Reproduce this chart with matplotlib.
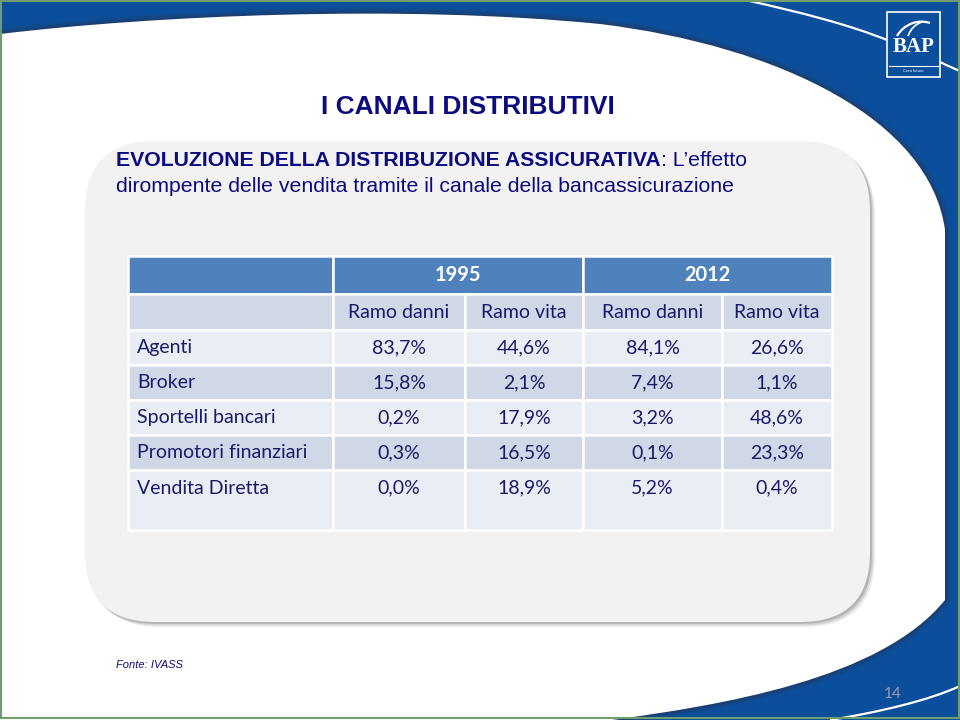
import matplotlib
matplotlib.use("Agg")
import matplotlib.pyplot as plt
from matplotlib.patches import Rectangle, FancyBboxPatch, PathPatch
from matplotlib.path import Path

# ---------------- data ----------------
title = "I CANALI DISTRIBUTIVI"
subtitle_bold = "EVOLUZIONE DELLA DISTRIBUZIONE ASSICURATIVA"
subtitle_rest = ": L\u2019effetto"
subtitle_line2 = "dirompente delle vendita tramite il canale della bancassicurazione"
years = ["1995", "2012"]
branches = ["Ramo danni", "Ramo vita", "Ramo danni", "Ramo vita"]
channels = ["Agenti", "Broker", "Sportelli bancari", "Promotori finanziari", "Vendita Diretta"]
danni_1995 = [83.7, 15.8, 0.2, 0.3, 0.0]
vita_1995 = [44.6, 2.1, 17.9, 16.5, 18.9]
danni_2012 = [84.1, 7.4, 3.2, 0.1, 5.2]
vita_2012 = [26.6, 1.1, 48.6, 23.3, 0.4]
source = "Fonte: IVASS"
page = "14"

# ---------------- style ----------------
BLUE = "#0B4F9C"
NAVY = "#0C0C80"
TXT = "#1A1A6A"
HDR = "#4F81BD"
DARK_ROW = "#D0D8E8"
LIGHT_ROW = "#E9EDF4"
SANS = ["Liberation Sans", "DejaVu Sans"]
TBL = ["Lato", "DejaVu Sans"]
TBL_SIZE = 14

fig = plt.figure(figsize=(9.6, 7.2), dpi=100)
ax = fig.add_axes([0, 0, 1, 1])
ax.set_xlim(0, 960)
ax.set_ylim(720, 0)
ax.axis("off")

# blue background with white slide area
ax.add_patch(Rectangle((0, 0), 960, 720, facecolor=BLUE, edgecolor="none", zorder=0))
verts = [(0, 34), (150, 16), (400, 4), (600, 24),
         (780, 46), (930, 120), (945, 230),
         (945, 600),
         (880, 680), (720, 705), (612, 720),
         (0, 720), (0, 34)]
codes = [Path.MOVETO, Path.CURVE4, Path.CURVE4, Path.CURVE4,
         Path.CURVE4, Path.CURVE4, Path.CURVE4,
         Path.LINETO,
         Path.CURVE4, Path.CURVE4, Path.CURVE4,
         Path.LINETO, Path.CLOSEPOLY]
wpath = Path(verts, codes)
for lw, a in [(9, 0.10), (6, 0.15), (3, 0.25)]:
    ax.add_patch(PathPatch(wpath, facecolor="none", edgecolor="#303040", lw=lw, alpha=a, zorder=1))
ax.add_patch(PathPatch(wpath, facecolor="white", edgecolor="none", zorder=2))

# white swoosh lines in the blue areas
l1 = Path([(745, 0), (800, 12), (850, 25), (887, 40)],
          [Path.MOVETO, Path.CURVE4, Path.CURVE4, Path.CURVE4])
ax.add_patch(PathPatch(l1, facecolor="none", edgecolor="white", lw=1.6, zorder=3))
l2 = Path([(940, 62), (948, 66), (955, 69), (960, 71)],
          [Path.MOVETO, Path.CURVE4, Path.CURVE4, Path.CURVE4])
ax.add_patch(PathPatch(l2, facecolor="none", edgecolor="white", lw=1.6, zorder=3))
l3 = Path([(830, 720), (880, 712), (930, 700), (960, 686)],
          [Path.MOVETO, Path.CURVE4, Path.CURVE4, Path.CURVE4])
ax.add_patch(PathPatch(l3, facecolor="none", edgecolor="white", lw=1.6, zorder=3))

# logo
ax.add_patch(Rectangle((887, 12), 53, 65, facecolor=BLUE, edgecolor="white", lw=1.2, zorder=4))
ax.plot([889, 938], [66, 66], color="white", lw=0.8, zorder=5)
ax.text(913.5, 47, "BAP", color="white", fontsize=15, fontweight="bold",
        family=["Liberation Serif", "DejaVu Serif"], ha="center", va="center", zorder=5)
arc = Path([(897, 36), (904, 24), (918, 19), (930, 23)],
           [Path.MOVETO, Path.CURVE4, Path.CURVE4, Path.CURVE4])
ax.add_patch(PathPatch(arc, facecolor="none", edgecolor="white", lw=1.6, zorder=5))
arc2 = Path([(908, 36), (911, 28), (916, 24), (922, 22)],
            [Path.MOVETO, Path.CURVE4, Path.CURVE4, Path.CURVE4])
ax.add_patch(PathPatch(arc2, facecolor="none", edgecolor="white", lw=1.2, zorder=5))
ax.text(913.5, 71.5, "Crea futuro", color="white", fontsize=3, family=SANS,
        ha="center", va="center", zorder=5)

# outer frame
ax.add_patch(Rectangle((1, 1), 958, 717, facecolor="none", edgecolor="#6E9E6E", lw=1.5, zorder=6))

# rounded panel with shadow
for off, a in [(5, 0.12), (3.5, 0.2), (2, 0.3)]:
    ax.add_patch(FancyBboxPatch((85 + off, 141 + off), 785, 481,
                                boxstyle="round,pad=0,rounding_size=70",
                                facecolor="#707070", edgecolor="none", alpha=a, zorder=7))
ax.add_patch(FancyBboxPatch((85, 141), 785, 481, boxstyle="round,pad=0,rounding_size=70",
                            facecolor="#F2F2F2", edgecolor="none", zorder=8))

# titles
ax.text(468, 106.5, title, color=NAVY, fontsize=19, fontweight="bold", family=SANS,
        ha="center", va="center", zorder=10)
t1 = ax.text(116, 166, subtitle_bold, color=NAVY, fontsize=15.3, fontweight="bold",
             family=SANS, ha="left", va="baseline", zorder=10)
ax.annotate(subtitle_rest, xy=(1, 0), xycoords=t1, color=NAVY, fontsize=15.3,
            family=SANS, ha="left", va="bottom", zorder=10)
ax.text(116, 192, subtitle_line2, color=NAVY, fontsize=15.3, family=SANS,
        ha="left", va="baseline", zorder=10)

# table
col_edges = [128, 333, 465, 583, 722, 832]
row_edges = [256, 294, 330, 365, 400, 435, 470, 530]
row_colors = [HDR, DARK_ROW, LIGHT_ROW, DARK_ROW, LIGHT_ROW, DARK_ROW, LIGHT_ROW]


def cell(x0, x1, y0, y1, color):
    ax.add_patch(Rectangle((x0, y0), x1 - x0, y1 - y0, facecolor=color,
                           edgecolor="white", lw=1.8, zorder=11))


# header row: blank + merged year cells
cell(col_edges[0], col_edges[1], row_edges[0], row_edges[1], HDR)
for i, yr in enumerate(years):
    xa, xb = col_edges[1 + 2 * i], col_edges[3 + 2 * i]
    cell(xa, xb, row_edges[0], row_edges[1], HDR)
    ax.text((xa + xb) / 2, (row_edges[0] + row_edges[1]) / 2, yr, color="white",
            fontsize=TBL_SIZE + 0.4, fontweight="bold", family=TBL, ha="center",
            va="center", zorder=12)

# sub-header row
cell(col_edges[0], col_edges[1], row_edges[1], row_edges[2], DARK_ROW)
for j, br in enumerate(branches):
    xa, xb = col_edges[1 + j], col_edges[2 + j]
    cell(xa, xb, row_edges[1], row_edges[2], DARK_ROW)
    ax.text((xa + xb) / 2, (row_edges[1] + row_edges[2]) / 2, br, color=TXT,
            fontsize=TBL_SIZE, family=TBL, ha="center", va="center", zorder=12)

# data rows
columns = [danni_1995, vita_1995, danni_2012, vita_2012]
for r, ch in enumerate(channels):
    y0, y1 = row_edges[2 + r], row_edges[3 + r]
    color = row_colors[2 + r]
    yc = (y0 + y1) / 2 if r < len(channels) - 1 else y0 + 18
    cell(col_edges[0], col_edges[1], y0, y1, color)
    ax.text(col_edges[0] + 9, yc, ch, color=TXT, fontsize=TBL_SIZE, family=TBL,
            ha="left", va="center", zorder=12)
    for j, vals in enumerate(columns):
        xa, xb = col_edges[1 + j], col_edges[2 + j]
        cell(xa, xb, y0, y1, color)
        label = f"{vals[r]:.1f}%".replace(".", ",")
        ax.text((xa + xb) / 2, yc, label, color=TXT, fontsize=TBL_SIZE, family=TBL,
                ha="center", va="center", zorder=12)

# footnote and page number
ax.text(116, 665, source, color=NAVY, fontsize=8, fontstyle="italic",
        family=["Liberation Sans Narrow", "Liberation Sans", "DejaVu Sans"],
        ha="left", va="center", zorder=10)
ax.text(893, 694, page, color="#9A9AB0", fontsize=11, family=TBL,
        ha="center", va="center", zorder=10)

fig.savefig("out.png", dpi=100)
